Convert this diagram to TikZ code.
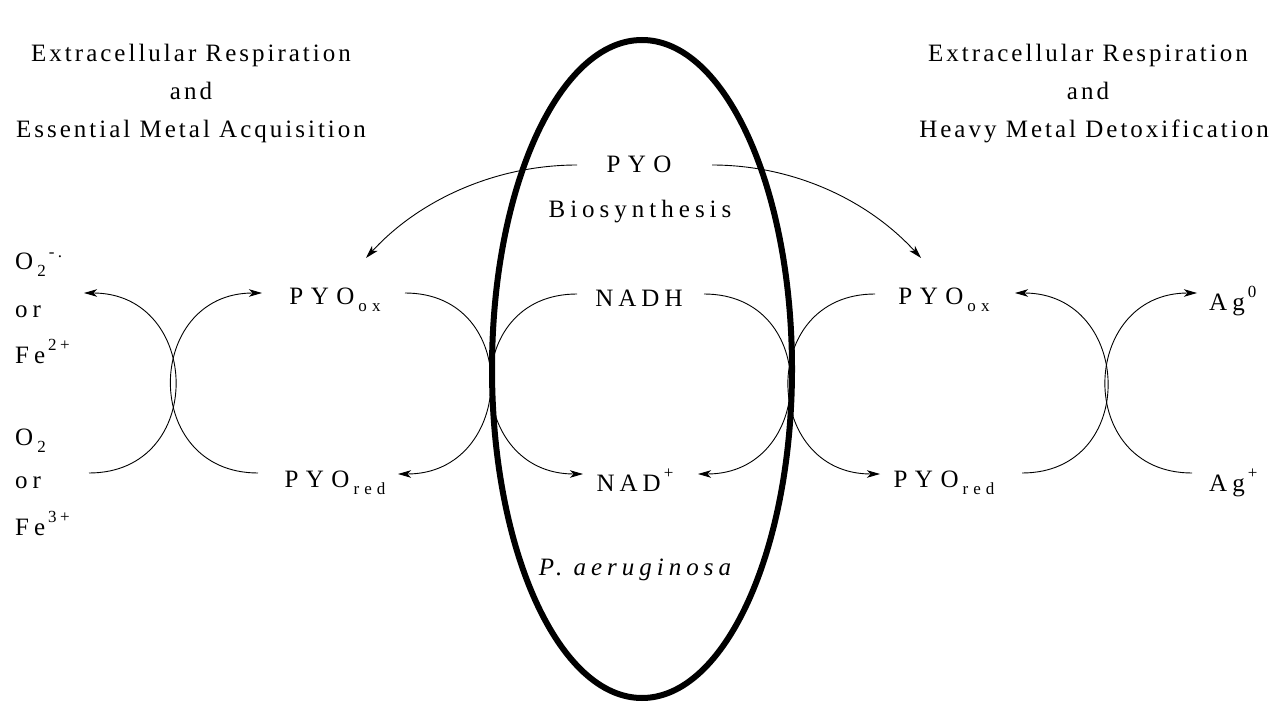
\documentclass[tikz,border=0pt]{standalone}
\usepackage{fontspec}
\setmainfont{Liberation Serif}
\newfontfamily\lsa[LetterSpace=20]{Liberation Serif}
\newfontfamily\lsb[LetterSpace=30]{Liberation Serif}
\newfontfamily\lst[LetterSpace=12]{Liberation Serif}
\usetikzlibrary{arrows.meta}
\newcommand\mysub[1]{\hspace{4pt}\raisebox{-7pt}{\fontsize{17}{17}\selectfont #1}}
\newcommand\mysupx[1]{\hspace{3pt}\raisebox{13pt}{\fontsize{17}{17}\selectfont #1}}
\tikzset{
  lbl/.style={font=\lsa\fontsize{25}{30}\selectfont, inner sep=0pt, anchor=base},
  pyolbl/.style={font=\lsb\fontsize{25}{30}\selectfont, inner sep=0pt, anchor=base},
  ttl/.style={font=\lst\fontsize{25}{30}\selectfont, inner sep=0pt, anchor=base},
  lcol/.style={lbl, anchor=base west},
  rxn/.style={line width=0.9pt, -{Stealth[length=13pt,width=7.5pt,inset=3.5pt]}},
  cell/.style={line width=6pt}
}
\begin{document}
\begin{tikzpicture}[x=1pt,y=-1pt]
\useasboundingbox (0,0) rectangle (1274,703);
% cell
\draw[cell] (642,369) ellipse [x radius=150pt, y radius=329pt];
% titles
\node[ttl] (tl1) at (191,62) {Extracellular Respiration};
\node[ttl] (tl2) at (191,100) {and};
\node[ttl] (tl3) at (191,138) {Essential Metal Acquisition};
\node[ttl] (tr1) at (1088,62) {Extracellular Respiration};
\node[ttl] (tr2) at (1088,100) {and};
\node[ttl] (tr3) at (1094,138) {Heavy Metal Detoxification};
% centre
\node[pyolbl] (pyo) at (639,173) {PYO};
\node[lbl] (bio) at (640,218) {Biosynthesis};
\node[lbl] (nadh) at (639,306) {NADH};
\node[lbl] (nad) at (635,491) {NAD\mysupx{+}};
\node[lbl] (pa) at (635,575) {\itshape P. aeruginosa};
% PYO
\node[pyolbl] (oxL) at (335,305) {PYO\mysub{ox}};
\node[pyolbl] (redL) at (335,487) {PYO\mysub{red}};
\node[pyolbl] (oxR) at (944,305) {PYO\mysub{ox}};
\node[pyolbl] (redR) at (944,487) {PYO\mysub{red}};
% right
\node[lcol] (ag0) at (1209,310) {Ag\mysupx{0}};
\node[lcol] (agp) at (1209,491) {Ag\mysupx{+}};
% left column
\node[lcol] (o2m) at (15,270) {O\mysub{2}\mysupx{-.}};
\node[lcol] (or1) at (15,317) {or};
\node[lcol] (fe2) at (15,363) {Fe\mysupx{2+}};
\node[lcol] (o2) at (15,445) {O\mysub{2}};
\node[lcol] (or2) at (15,488) {or};
\node[lcol] (fe3) at (15,535) {Fe\mysupx{3+}};
% arc end points
\coordinate (a1s) at (89,473);  \coordinate (a1e) at (84,293);
\coordinate (a2s) at (258,473); \coordinate (a2e) at (262,293);
\coordinate (a3s) at (405,293); \coordinate (a3e) at (398,474);
\coordinate (a4s) at (577,294); \coordinate (a4e) at (583,474);
\coordinate (a5s) at (704,294); \coordinate (a5e) at (698,474);
\coordinate (a6s) at (875,294); \coordinate (a6e) at (880,474);
\coordinate (a7s) at (1022,473); \coordinate (a7e) at (1015,293);
\coordinate (a8s) at (1192,473); \coordinate (a8e) at (1197,293);
\draw[rxn] (a1s) to[out=0,in=0,distance=118pt] (a1e);
\draw[rxn] (a2s) to[out=180,in=180,distance=118pt] (a2e);
\draw[rxn] (a3s) to[out=0,in=0,distance=118pt] (a3e);
\draw[rxn] (a4s) to[out=180,in=180,distance=118pt] (a4e);
\draw[rxn] (a5s) to[out=0,in=0,distance=118pt] (a5e);
\draw[rxn] (a6s) to[out=180,in=180,distance=118pt] (a6e);
\draw[rxn] (a7s) to[out=0,in=0,distance=118pt] (a7e);
\draw[rxn] (a8s) to[out=180,in=180,distance=118pt] (a8e);
% biosynthesis arrows
\coordinate (bsL) at (577,165); \coordinate (bsLe) at (366,258);
\coordinate (bsR) at (712,165); \coordinate (bsRe) at (921,258);
\draw[rxn] (bsL) .. controls (497,165) and (420,199) .. (bsLe);
\draw[rxn] (bsR) .. controls (792,165) and (867,199) .. (bsRe);
\end{tikzpicture}
\end{document}
